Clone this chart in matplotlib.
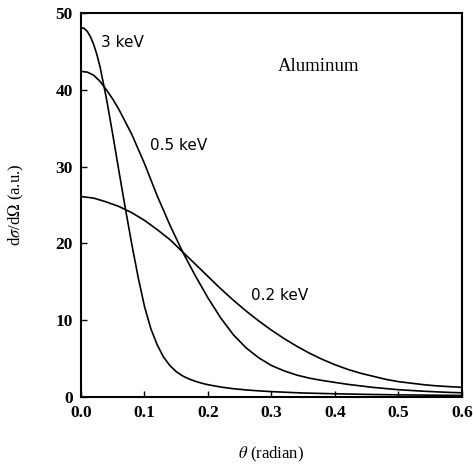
import matplotlib
matplotlib.use("Agg")
import matplotlib.pyplot as plt

plt.rcParams["mathtext.fontset"] = "stix"

# Differential cross sections for aluminum at three electron energies
theta_3kev = [0, 0.005, 0.01, 0.015, 0.02, 0.025, 0.03, 0.04, 0.05, 0.06, 0.07, 0.08, 0.09, 0.1,
              0.11, 0.12, 0.13, 0.14, 0.15, 0.16, 0.17, 0.18, 0.19, 0.2,
              0.22, 0.24, 0.26, 0.28, 0.3, 0.35, 0.4, 0.45, 0.5, 0.55, 0.6]
sigma_3kev = [48.1, 48.0, 47.6, 46.9, 45.9, 44.6, 43.0, 38.9, 34.2, 29.3, 24.5, 19.9, 15.6, 11.8,
              8.9, 6.8, 5.2, 4.1, 3.3, 2.75, 2.35, 2.05, 1.8, 1.6,
              1.3, 1.08, 0.92, 0.8, 0.7, 0.52, 0.42, 0.34, 0.28, 0.24, 0.2]

theta_05kev = [0, 0.01, 0.02, 0.03, 0.04, 0.05, 0.06, 0.08, 0.1, 0.12, 0.14, 0.16, 0.18, 0.2,
               0.22, 0.24, 0.26, 0.28, 0.3, 0.32, 0.34, 0.36, 0.38, 0.4,
               0.42, 0.44, 0.46, 0.48, 0.5, 0.52, 0.54, 0.56, 0.58, 0.6]
sigma_05kev = [42.4, 42.3, 41.9, 41.1, 40.0, 38.8, 37.4, 34.2, 30.4, 26.2, 22.4, 18.9, 15.8, 12.9,
               10.3, 8.1, 6.4, 5.1, 4.1, 3.4, 2.85, 2.45, 2.15, 1.9,
               1.65, 1.45, 1.25, 1.1, 0.95, 0.85, 0.75, 0.67, 0.6, 0.55]

theta_02kev = [0, 0.02, 0.04, 0.06, 0.08, 0.1, 0.12, 0.14, 0.16, 0.18, 0.2,
               0.22, 0.24, 0.26, 0.28, 0.3, 0.32, 0.34, 0.36, 0.38, 0.4,
               0.42, 0.44, 0.46, 0.48, 0.5, 0.52, 0.54, 0.56, 0.58, 0.6]
sigma_02kev = [26.1, 25.9, 25.4, 24.8, 24.0, 23.0, 21.8, 20.5, 18.9, 17.3, 15.7,
               14.1, 12.6, 11.2, 9.9, 8.7, 7.6, 6.6, 5.7, 4.9, 4.2,
               3.6, 3.1, 2.7, 2.3, 2.0, 1.8, 1.6, 1.45, 1.35, 1.26]

curve_labels = ["3 keV", "0.5 keV", "0.2 keV"]
label_pos = [(0.032, 46.2), (0.108, 32.7), (0.267, 13.2)]

x_ticks = [0.0, 0.1, 0.2, 0.3, 0.4, 0.5, 0.6]
y_ticks = [0, 10, 20, 30, 40, 50]

fig = plt.figure(figsize=(4.73, 4.68), dpi=100)
ax = fig.add_axes([0.1712, 0.1517, 0.8055, 0.8205])

for th, sg in [(theta_3kev, sigma_3kev), (theta_05kev, sigma_05kev), (theta_02kev, sigma_02kev)]:
    ax.plot(th, sg, color="black", lw=1.2, solid_joinstyle="round")

for lab, (x, y) in zip(curve_labels, label_pos):
    ax.text(x, y, lab, ha="left", va="center", fontsize=11, family="DejaVu Sans")

ax.text(0.31, 43.0, "Aluminum", ha="left", va="center", fontsize=13.5,
        family="Liberation Serif")

ax.set_xlim(0, 0.6)
ax.set_ylim(0, 50)
ax.set_xticks(x_ticks)
ax.set_xticklabels([f"{t:.1f}" for t in x_ticks])
ax.set_yticks(y_ticks)
ax.set_yticklabels([str(t) for t in y_ticks])
ax.tick_params(direction="in", length=4, width=1, pad=6)
for lbl in ax.get_xticklabels() + ax.get_yticklabels():
    lbl.set_fontfamily("Liberation Serif")
    lbl.set_fontweight("bold")
    lbl.set_fontsize(12.5)

for sp in ax.spines.values():
    sp.set_linewidth(1.5)

ax.set_xlabel(r"$\theta$ (radian)", fontsize=12, family="Liberation Serif")
ax.set_ylabel(r"d$\sigma$/d$\Omega$ (a.u.)", fontsize=12, family="Liberation Serif")
ax.xaxis.set_label_coords(0.5, -0.125)
ax.yaxis.set_label_coords(-0.145, 0.5)

fig.savefig("out.png", dpi=100)
